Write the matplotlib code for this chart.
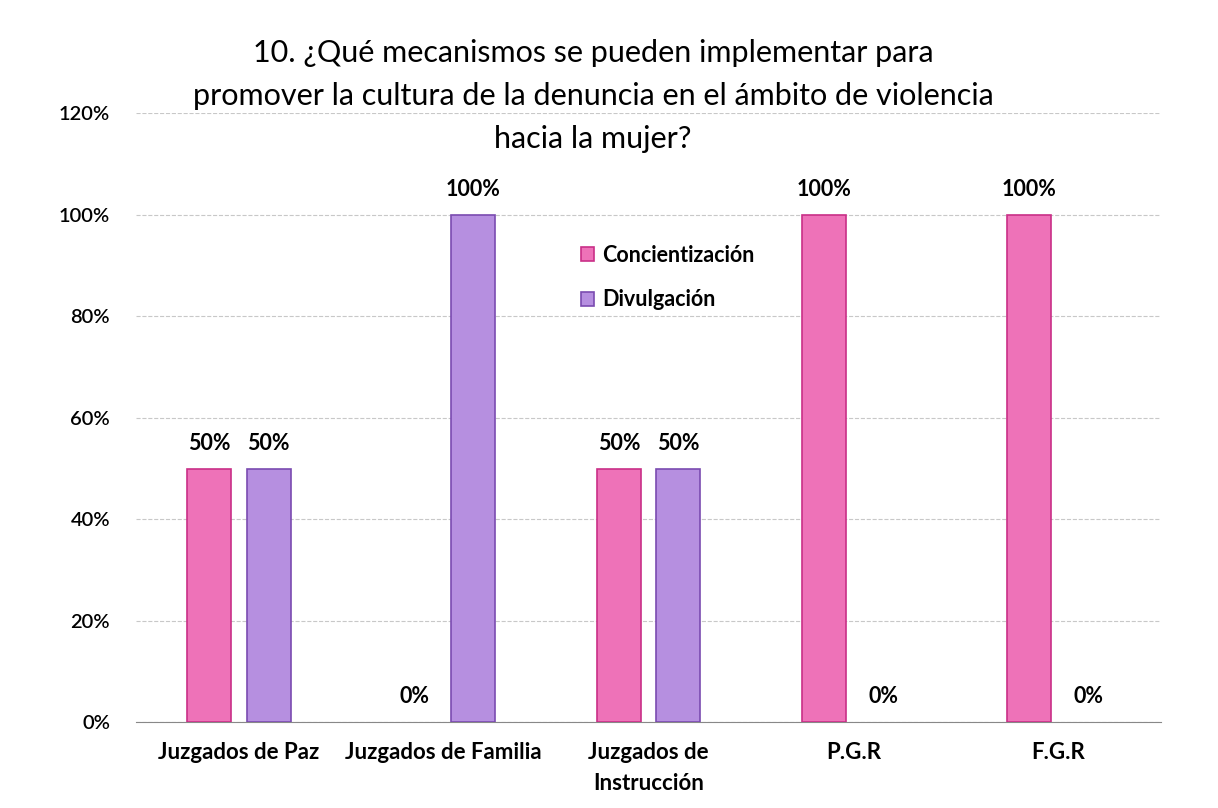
import numpy as np
import matplotlib.pyplot as plt

# Data
categories = ['Juzgados de Paz', 'Juzgados de Familia', 'Juzgados de\nInstrucción', 'P.G.R', 'F.G.R']
concientizacion = [50, 0, 50, 100, 100]
divulgacion = [50, 100, 50, 0, 0]
yticks = [0, 20, 40, 60, 80, 100, 120]

plt.rcParams['font.family'] = ['Lato', 'DejaVu Sans']

fig = plt.figure(figsize=(12.18, 8.08), dpi=100)
ax = fig.add_axes([0.112, 0.106, 0.841, 0.754])

x = np.arange(len(categories))
w = 0.215
off = 0.145
b1 = ax.bar(x - off, concientizacion, w, color='#ee72b8', edgecolor='#c92f87',
            linewidth=1.2, label='Concientización', zorder=3)
b2 = ax.bar(x + off, divulgacion, w, color='#b68fe0', edgecolor='#7a4bb0',
            linewidth=1.2, label='Divulgación', zorder=3)

for bars in (b1, b2):
    for r in bars:
        h = r.get_height()
        if h == 0:
            r.set_linewidth(0)
        ax.text(r.get_x() + r.get_width() / 2, h + 5, f'{h:.0f}%',
                ha='center', va='center', fontsize=15.5, fontweight='bold')

ax.set_xlim(-0.5, len(categories) - 0.5)
ax.set_ylim(0, 120)
ax.set_yticks(yticks)
ax.set_yticklabels([f'{t}%' for t in yticks], fontsize=14.5, fontweight='semibold')
ax.set_xticks(x)
ax.set_xticklabels(categories, fontsize=16, fontweight='bold', linespacing=1.6)
ax.tick_params(axis='both', length=0)
ax.tick_params(axis='y', pad=19)
ax.tick_params(axis='x', pad=14)
ax.grid(axis='y', color='#c8c8c8', linestyle='--', linewidth=0.8, zorder=0)
for s in ('top', 'right', 'left'):
    ax.spines[s].set_visible(False)
ax.spines['bottom'].set_color('#888888')

ax.legend(loc='upper left', bbox_to_anchor=(0.415, 0.816), frameon=False,
          prop={'weight': 'bold', 'size': 15.5}, handlelength=0.6, handleheight=0.6,
          handletextpad=0.4, labelspacing=1.1)

fig.text(0.487, 0.952, '10. ¿Qué mecanismos se pueden implementar para\n'
         'promover la cultura de la denuncia en el ámbito de violencia\n'
         'hacia la mujer?', ha='center', va='top', fontsize=22, linespacing=1.65)

plt.savefig('out.png', dpi=100)
